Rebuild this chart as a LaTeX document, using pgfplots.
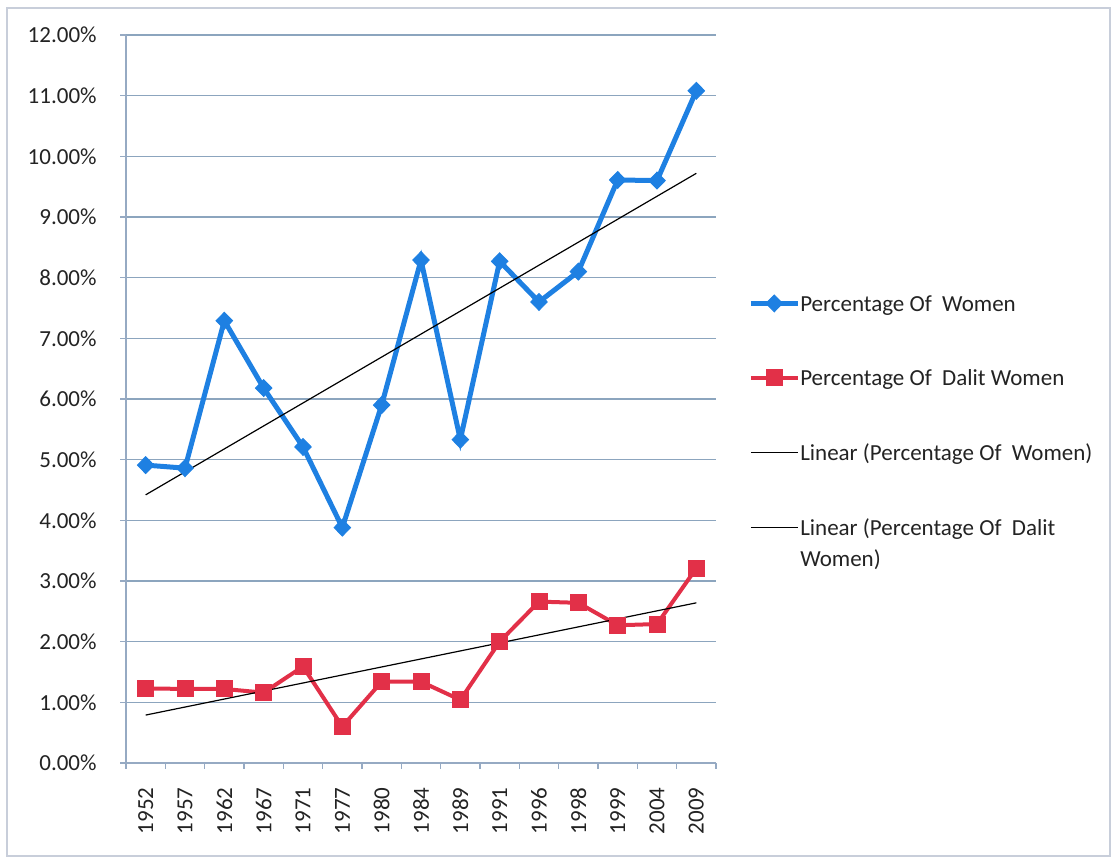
\documentclass[border=0pt]{standalone}
\usepackage{pgfplots}
\pgfplotsset{compat=1.18}
\usepackage{fontspec}
\setmainfont{Carlito}
\definecolor{cblue}{RGB}{30,128,226}
\definecolor{cred}{RGB}{226,48,72}
\definecolor{gridc}{RGB}{140,165,190}
\definecolor{axc}{RGB}{150,170,195}
\definecolor{framec}{RGB}{200,206,218}
\definecolor{txt}{RGB}{35,35,35}
\begin{document}
\begin{tikzpicture}[font=\fontsize{11.5}{15.5}\selectfont]
\path[use as bounding box] (0,0) rectangle (556.5pt,430pt);
\draw[framec, line width=0.6pt] (3.5pt,2pt) rectangle (555pt,426pt);
\begin{axis}[
  at={(63pt,48.5pt)}, anchor=south west,
  scale only axis, width=295pt, height=364pt,
  xmin=-0.5, xmax=14.5, ymin=0, ymax=12,
  axis x line*=bottom, axis y line*=left,
  axis line style={axc, line width=0.6pt},
  tick align=outside, major tick length=3pt,
  tick style={axc, line width=0.6pt},
  xtick={-0.5,0.5,...,14.5}, xticklabels={,,,,,,,,,,,,,,,,},
  extra x ticks={0,1,...,14},
  extra x tick labels={1952,1957,1962,1967,1971,1977,1980,1984,1989,1991,1996,1998,1999,2004,2009},
  extra x tick style={major tick length=0pt, xticklabel style={yshift=-12pt, rotate=90, anchor=east, inner sep=0pt, text=txt}},
  ytick={0,1,...,12},
  yticklabels={0.00\%,1.00\%,2.00\%,3.00\%,4.00\%,5.00\%,6.00\%,7.00\%,8.00\%,9.00\%,10.00\%,11.00\%,12.00\%},
  yticklabel style={inner sep=0pt, xshift=-11.5pt, text=txt},
  ymajorgrids, grid style={gridc, line width=0.6pt},
  legend cell align=left,
  legend style={at={(rel axis cs:1.054,0.6434)}, anchor=north west, draw=none, fill=none, inner sep=0pt,
    row sep=27.6pt, column sep=0pt, nodes={anchor=base west, inner sep=0pt, text=txt}},
  legend image code/.code={\draw[mark repeat=2, mark phase=2, yshift=4pt, #1] plot coordinates {(0pt,0pt) (11.75pt,0pt) (23.5pt,0pt)};},
  clip=false,
]
\addplot[cblue, line width=2.5pt, mark=diamond*, mark size=4.2pt, mark options={solid, line width=0.5pt, xscale=1.3}] coordinates {
(0,4.91) (1,4.86) (2,7.29) (3,6.18) (4,5.21) (5,3.88) (6,5.90) (7,8.29) (8,5.33) (9,8.27) (10,7.60) (11,8.10) (12,9.61) (13,9.60) (14,11.08)};
\addlegendentry{Percentage Of\ \ Women}
\addplot[cred, line width=2pt, mark=square*, mark size=4pt, mark options={solid, line width=0.5pt}] coordinates {
(0,1.23) (1,1.22) (2,1.22) (3,1.16) (4,1.59) (5,0.60) (6,1.34) (7,1.34) (8,1.04) (9,2.00) (10,2.66) (11,2.64) (12,2.27) (13,2.29) (14,3.21)};
\addlegendentry{Percentage Of\ \ Dalit Women}
\addplot[black, line width=0.6pt] coordinates {(0,4.42) (14,9.72)};
\addlegendentry{Linear (Percentage Of\ \ Women)}
\addplot[black, line width=0.6pt] coordinates {(0,0.79) (14,2.64)};
\addlegendentry{\vtop{\hbox{Linear (Percentage Of\ \ Dalit}\hbox{Women)}}}
\end{axis}
\end{tikzpicture}
\end{document}
